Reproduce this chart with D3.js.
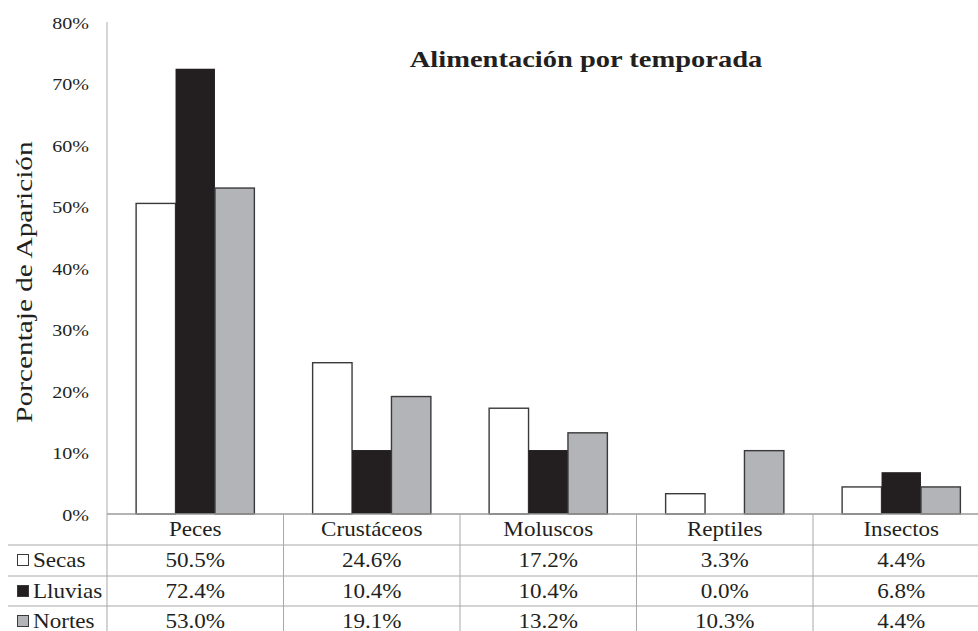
<!DOCTYPE html>
<html><head><meta charset="utf-8">
<script src="https://cdn.jsdelivr.net/npm/d3@7"></script>
<style>body{margin:0;background:#fff}svg{display:block}</style>
</head><body><svg id="c" width="978" height="631"></svg>
<script>
const categories = ["Peces","Crustáceos","Moluscos","Reptiles","Insectos"];
const seriesNames = ["Secas","Lluvias","Nortes"];
const secas   = [50.5, 24.6, 17.2, 3.3, 4.4];
const lluvias = [72.4, 10.4, 10.4, 0.0, 6.8];
const nortes  = [53.0, 19.1, 13.2, 10.3, 4.4];
const yTicks = [0,10,20,30,40,50,60,70,80];
const title = "Alimentación por temporada";
const yLabel = "Porcentaje de Aparición";

const seriesValues = [secas, lluvias, nortes];
const fills = ["#ffffff", "#231f20", "#b3b4b8"];
const strokes = ["#3a3a3a", "none", "#3a3a3a"];
const FONT = "'Liberation Serif','Times New Roman',Times,serif";
const TXT = "#231f20";

const svg = d3.select("#c");
const plotLeft = 107, plotTop = 22, base = 514, step = 176.5;
const y = d3.scaleLinear().domain([0, 80]).range([base, plotTop]);
const pad = 0.33;
const x = d3.scaleBand().domain(categories).range([plotLeft, plotLeft + step*categories.length])
  .paddingInner(pad).paddingOuter(pad/2);
const xs = d3.scaleBand().domain(seriesNames).range([0, x.bandwidth()]);

function txt(g, px, py, s, size, anchor, sx, weight, extra) {
  return g.append("text")
    .attr("transform", `translate(${px},${py})${extra||""} scale(${sx},1)`)
    .attr("text-anchor", anchor)
    .attr("font-family", FONT)
    .attr("font-size", size)
    .attr("font-weight", weight || "normal")
    .attr("fill", TXT)
    .text(s);
}

// y axis line
svg.append("line").attr("x1", plotLeft).attr("x2", plotLeft).attr("y1", y(80)).attr("y2", base)
  .attr("stroke", "#bdbdbd").attr("stroke-width", 1.2);

// y tick labels
yTicks.forEach(t => {
  txt(svg, 89, y(t) + 6.5, t + "%", 17, "end", 1.18);
});

// bars
const data = [];
categories.forEach((c, i) => seriesNames.forEach((s, j) => data.push({c, s, j, v: seriesValues[j][i]})));
svg.append("g").selectAll("rect").data(data).join("rect")
  .attr("x", d => x(d.c) + xs(d.s))
  .attr("y", d => y(d.v))
  .attr("width", xs.bandwidth())
  .attr("height", d => base - y(d.v))
  .attr("fill", d => fills[d.j])
  .attr("stroke", d => d.v > 0 ? strokes[d.j] : "none")
  .attr("stroke-width", 1.4);

// table grid
const grid = "#a8a8a8";
const rowLines = [545, 576, 606];
svg.append("line").attr("x1", plotLeft).attr("x2", 978).attr("y1", base).attr("y2", base)
  .attr("stroke", "#9a9a9a").attr("stroke-width", 1.3);
rowLines.forEach(ry => svg.append("line").attr("x1", 8).attr("x2", 978).attr("y1", ry).attr("y2", ry)
  .attr("stroke", grid).attr("stroke-width", 1));
d3.range(categories.length + 1).forEach(i => {
  const vx = plotLeft + i*step;
  svg.append("line").attr("x1", vx).attr("x2", vx).attr("y1", base).attr("y2", 631)
    .attr("stroke", grid).attr("stroke-width", 1);
});

// category header
categories.forEach(c => txt(svg, x(c) + x.bandwidth()/2, 536, c, 21, "middle", 1.1));

// rows
const rowBase = [567, 598, 628];
seriesNames.forEach((s, j) => {
  svg.append("rect").attr("x", 17.5).attr("y", rowBase[j] - 12.5).attr("width", 11).attr("height", 11)
    .attr("fill", fills[j]).attr("stroke", "#3a3a3a").attr("stroke-width", 1);
  txt(svg, 33, rowBase[j], s, 21, "start", 1.1);
  categories.forEach((c, i) => {
    txt(svg, x(c) + x.bandwidth()/2, rowBase[j], seriesValues[j][i].toFixed(1) + "%", 21, "middle", 1.1);
  });
});

// title
txt(svg, 586, 67, title, 23, "middle", 1.24, "bold");

// y label
txt(svg, 32, 282, yLabel, 24, "middle", 1.22, "normal", " rotate(-90)");
</script></body></html>
